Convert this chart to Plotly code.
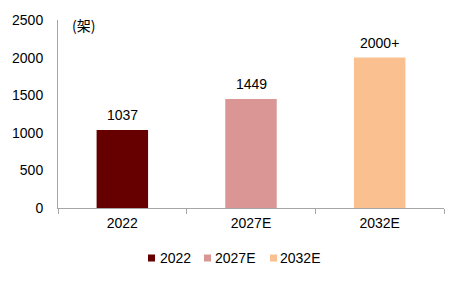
import plotly.graph_objects as go

categories = ["2022", "2027E", "2032E"]
values = [1037, 1449, 2000]
labels = ["1037", "1449", "2000+"]
colors = ["#660000", "#D99694", "#FAC090"]
y_ticks = [0, 500, 1000, 1500, 2000, 2500]
unit_label = "(架)"

FONT = "Liberation Sans, Arial, sans-serif"
L, R, T, B = 58, 22, 20, 76
W, H = 466, 284
PW, PH = W - L - R, H - T - B


def px_x(p):
    return (p - L) / PW


def px_y(p):
    return (T + PH - p) / PH


fig = go.Figure()
for c, v, col in zip(categories, values, colors):
    fig.add_trace(go.Bar(
        x=[c], y=[v], name=c, marker=dict(color=col, line=dict(width=0)),
        width=0.4, showlegend=False,
    ))

annotations = []
for i, (v, t) in enumerate(zip(values, labels)):
    annotations.append(dict(x=i, y=v, text=t, xref="x", yref="y",
                            xanchor="center", yanchor="bottom", yshift=5,
                            showarrow=False, font=dict(size=14, color="#000000", family=FONT)))
annotations.append(dict(text=unit_label, xref="paper", yref="paper",
                        x=px_x(72), y=px_y(25),
                        xanchor="left", yanchor="middle", showarrow=False, xshift=-2,
                        font=dict(size=14, family="Noto Sans CJK SC, Liberation Sans", color="#000000")))

legend_sq_x = [148, 204, 270]
legend_txt_x = [160, 215, 280]
legend_y = 258
shapes = []
for c, col, sx, tx in zip(categories, colors, legend_sq_x, legend_txt_x):
    shapes.append(dict(type="rect", xref="paper", yref="paper",
                       x0=px_x(sx), x1=px_x(sx + 7),
                       y0=px_y(legend_y + 3.5), y1=px_y(legend_y - 3.5),
                       fillcolor=col, line=dict(width=0)))
    annotations.append(dict(text=c, xref="paper", yref="paper",
                            x=px_x(tx), y=px_y(legend_y),
                            xanchor="left", yanchor="middle", showarrow=False, xshift=-2,
                            font=dict(size=14, color="#000000", family=FONT)))

fig.update_layout(
    width=W, height=H,
    margin=dict(l=L, r=R, t=T, b=B),
    paper_bgcolor="white", plot_bgcolor="white",
    barmode="overlay",
    font=dict(family=FONT, size=14, color="#000000"),
    showlegend=False,
    annotations=annotations,
    shapes=shapes,
)
fig.update_xaxes(
    type="category", categoryorder="array", categoryarray=categories,
    range=[-0.5, len(categories) - 0.5],
    showline=True, linecolor="#A6A6A6", linewidth=1,
    ticks="outside", tickson="boundaries", ticklen=5, tickcolor="#A6A6A6",
    showgrid=False, tickfont=dict(size=14, color="#000000"), ticklabelstandoff=2,
)
fig.update_yaxes(
    range=[0, 2500], tickvals=y_ticks, showline=True, linecolor="#A6A6A6",
    linewidth=1, showgrid=False, zeroline=False, ticks="", ticklabelstandoff=11,
    tickfont=dict(size=14, color="#000000"),
)
fig.write_html("out.html")
